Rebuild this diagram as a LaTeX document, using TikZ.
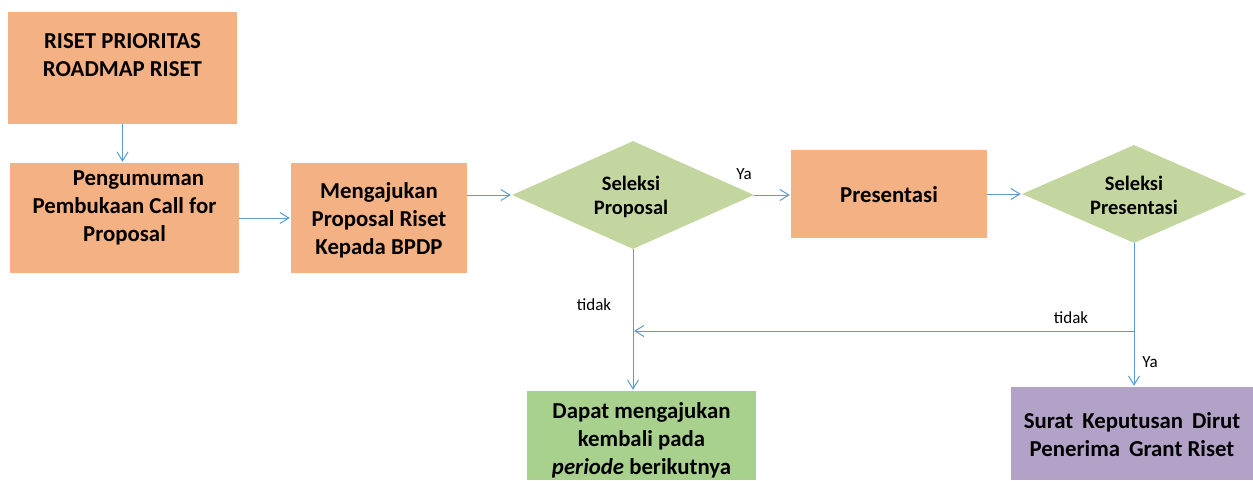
\documentclass[tikz,border=0pt]{standalone}
\usepackage{fontspec}
\setmainfont{Carlito}
\usetikzlibrary{shapes.geometric,arrows.meta}
\definecolor{boxorange}{RGB}{244,177,131}
\definecolor{diagreen}{RGB}{196,214,160}
\definecolor{boxgreen}{RGB}{169,209,142}
\definecolor{boxpurple}{RGB}{178,162,199}
\definecolor{lineblue}{RGB}{91,155,213}
\tikzset{
  box/.style={rectangle, draw=none, inner sep=0pt},
  dia/.style={diamond, fill=diagreen, draw=none, inner sep=0pt},
  btxt/.style={font=\fontsize{22.8}{28}\selectfont\bfseries, align=center, inner sep=0pt},
  dtxt/.style={font=\fontsize{20.5}{24}\selectfont\bfseries, align=center, inner sep=0pt},
  lbl/.style={font=\fontsize{17}{20}\selectfont, inner sep=0pt, anchor=base},
  conn/.style={draw=lineblue, line width=1pt, -{Straight Barb[length=9pt,width=11pt]}, shorten >=1pt},
}
\begin{document}
\begin{tikzpicture}[x=1pt,y=-1pt]
\useasboundingbox (0,0) rectangle (1253,480);
% boxes
\node[box, fill=boxorange, minimum width=229, minimum height=112] (b1) at (122.5,68) {};
\node[box, fill=boxorange, minimum width=229, minimum height=110] (b2) at (124.5,218) {};
\node[box, fill=boxorange, minimum width=176, minimum height=110] (b3) at (379,218) {};
\node[dia, minimum width=242, minimum height=108] (d1) at (633,195) {};
\node[box, fill=boxorange, minimum width=196, minimum height=88] (pr) at (889,194) {};
\node[dia, minimum width=224, minimum height=98] (d2) at (1134,194) {};
\node[box, fill=boxgreen, minimum width=229, minimum height=89] (g) at (641.5,435.5) {};
\node[box, fill=boxpurple, minimum width=242, minimum height=93] (p) at (1132,433.5) {};
% texts
\node[btxt] (b1t) at (122.5,55) {RISET PRIORITAS\\ROADMAP RISET};
\node[btxt] (b2t) at (124.5,207.5) {\hspace*{28pt}Pengumuman\\Pembukaan Call for\\Proposal};
\node[btxt] (b3t) at (379,220.5) {Mengajukan\\Proposal Riset\\Kepada BPDP};
\node[dtxt] (d1t) at (631,197) {Seleksi\\Proposal};
\node[btxt] (prt) at (889,195) {Presentasi};
\node[dtxt] (d2t) at (1134,195.5) {Seleksi\\Presentasi};
\node[btxt] (gt) at (641.5,440) {Dapat mengajukan\\kembali pada\\\textit{periode} berikutnya};
\node[btxt] (pt) at (1132,434.5) {Surat\hspace{9pt}Keputusan\hspace{9pt}Dirut\\Penerima\hspace{9pt}Grant Riset};
% connectors
\draw[conn] (b1.south) -- (b1.south |- b2.north);
\draw[conn] (b2.east) -- (b3.west);
\draw[conn] (b3.east |- d1.west) -- (d1.west);
\draw[conn] (d1.east) -- (d1.east -| pr.west);
\draw[conn] (pr.east) -- (pr.east -| d2.west);
\draw[conn] (d1.south) -- (d1.south |- g.north);
\draw[conn] (d2.south) -- (d2.south |- p.north);
\coordinate (j2) at (d2.south |- 0,331);
\coordinate (j1) at (d1.south |- 0,331);
\draw[conn] (j2) -- (j1);
% labels
\node[lbl] (ya1) at (744,179) {Ya};
\node[lbl] (ti1) at (594,310) {tidak};
\node[lbl] (ti2) at (1071,323) {tidak};
\node[lbl] (ya2) at (1150,367) {Ya};
\end{tikzpicture}
\end{document}
